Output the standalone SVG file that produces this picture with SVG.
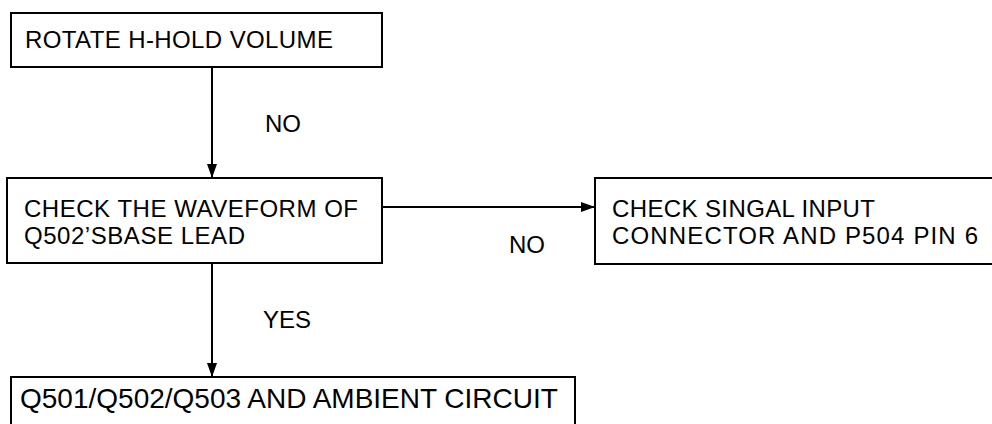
<svg xmlns="http://www.w3.org/2000/svg" width="992" height="424" viewBox="0 0 992 424">
<defs>
<style>
.box{fill:#fff;stroke:#000;stroke-width:2}
.t{font-family:"Liberation Sans",Arial,sans-serif;font-size:24px;fill:#000}
.big{font-size:28px}
.c{stroke:#000;stroke-width:2;fill:none}
</style>
<marker id="ah" viewBox="0 0 14 10" refX="14" refY="5" markerWidth="14" markerHeight="10" markerUnits="userSpaceOnUse" orient="auto">
<path d="M0,0 L14,5 L0,10 Z" fill="#000"/>
</marker>
</defs>
<rect width="992" height="424" fill="#fff"/>
<g id="connectors">
<line class="c" x1="212" y1="67" x2="212" y2="178" marker-end="url(#ah)"/>
<line class="c" x1="382" y1="207" x2="595" y2="207" marker-end="url(#ah)"/>
<line class="c" x1="212" y1="263" x2="212" y2="377" marker-end="url(#ah)"/>
<text class="t" x="265" y="132">NO</text>
<text class="t" x="509" y="253">NO</text>
<text class="t" x="263" y="328">YES</text>
</g>
<g id="n1">
<rect class="box" x="11" y="13" width="371" height="54"/>
<text class="t" x="25" y="48" textLength="308">ROTATE H-HOLD VOLUME</text>
</g>
<g id="n2">
<rect class="box" x="7" y="178" width="375" height="85"/>
<text class="t" x="24" y="217" textLength="334">CHECK THE WAVEFORM OF</text>
<text class="t" x="24" y="244" textLength="221">Q502’SBASE LEAD</text>
</g>
<g id="n3">
<rect class="box" x="595" y="178" width="410" height="86"/>
<text class="t" x="612" y="217" textLength="263">CHECK SINGAL INPUT</text>
<text class="t" x="612" y="244" textLength="366">CONNECTOR AND P504 PIN 6</text>
</g>
<g id="n4">
<rect class="box" x="11" y="377" width="564" height="60"/>
<text class="t big" x="20" y="408">Q501/Q502/Q503 AND AMBIENT CIRCUIT</text>
</g>
</svg>
